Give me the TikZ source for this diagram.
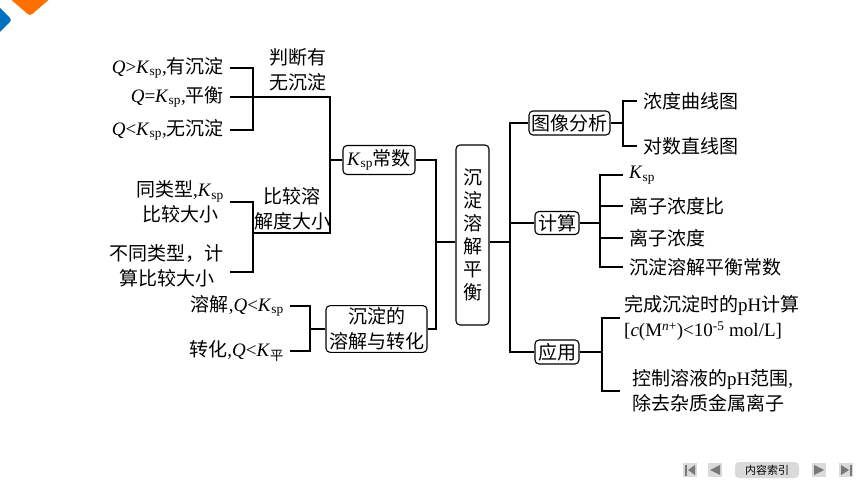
\documentclass[tikz,border=0pt]{standalone}
\usepackage{fontspec}
\setmainfont{Noto Sans CJK SC}
\newfontfamily\latfont{Liberation Serif}
\usetikzlibrary{calc}
\definecolor{logoBlue}{RGB}{0,112,192}
\definecolor{logoOrange}{RGB}{255,112,0}
\definecolor{navGray}{RGB}{120,120,120}
\definecolor{navLight}{RGB}{218,218,218}
\newcommand{\Lat}[1]{{\latfont #1}}
\newcommand{\Qv}{{\latfont\textit{Q}}}
\newcommand{\Kv}{{\latfont\textit{K}}}
\newcommand{\Ksp}{{\latfont\textit{K}\textsubscript{sp}}}
\tikzset{
  box/.style={draw,rounded corners=4pt,line width=1.1pt,inner sep=2pt,align=center},
  leaf/.style={inner xsep=6pt,inner ysep=1pt,align=center},
  link/.style={line width=1.3pt},
}

\begin{document}
\begin{tikzpicture}[x=1pt,y=-1pt,font=\fontsize{19}{25}\selectfont]
\useasboundingbox (0,0) rectangle (860,484);
% logo
\fill[logoOrange,rounded corners=3pt] (8,-3) -- (30,16) -- (52,-3) -- cycle;
\fill[logoBlue,rounded corners=3pt] (-3,5) -- (12,20) -- (-3,35) -- cycle;

% boxes
\node[box,minimum width=33,minimum height=180,inner sep=0pt,font=\fontsize{19}{23}\selectfont] (hub) at (472.5,235) {沉\\淀\\溶\\解\\平\\衡};
\node[box,minimum width=72,minimum height=29] (ksp) at (379,160) {\Ksp 常数};
\node[box,minimum width=101,minimum height=46] (zr) at (376.5,329) {沉淀的\\溶解与转化};
\node[box,minimum width=81,minimum height=24] (tx) at (569.5,123) {图像分析};
\node[box,minimum width=44,minimum height=23] (js) at (557,223) {计算};
\node[box,minimum width=44,minimum height=24] (yy) at (557,352) {应用};

% left leaves
\node[leaf,anchor=east] (q1) at (230,68) {\Qv\Lat{>}\Ksp\Lat{,}有沉淀};
\node[leaf,anchor=east] (q2) at (230,97) {\Qv\Lat{=}\Ksp\Lat{,}平衡};
\node[leaf,anchor=east] (q3) at (230,130) {\Qv\Lat{<}\Ksp\Lat{,}无沉淀};
\node[leaf] (lab1) at (298,70) {判断有\\无沉淀};
\node[leaf,anchor=east] (s1) at (230,202) {同类型\Lat{,}\Ksp\\比较大小};
\node[leaf,anchor=east] (s2) at (230,266) {不同类型，计\\算比较大小};
\node[leaf] (lab2) at (292,209) {比较溶\\解度大小};
\node[leaf,anchor=east] (r1) at (290,306) {溶解\Lat{,}\Qv\Lat{<}\Ksp};
\node[leaf,anchor=east] (r2) at (290,351) {转化\Lat{,}\Qv\Lat{<}\Kv\textsubscript{平}};

% right leaves
\node[leaf,anchor=west] (a1) at (637,101) {浓度曲线图};
\node[leaf,anchor=west] (a2) at (637,146) {对数直线图};
\node[leaf,anchor=west] (b1) at (623,175) {\Ksp};
\node[leaf,anchor=west] (b2) at (623,206) {离子浓度比};
\node[leaf,anchor=west] (b3) at (623,238) {离子浓度};
\node[leaf,anchor=west] (b4) at (623,267) {沉淀溶解平衡常数};
\node[leaf,anchor=west,align=left,inner xsep=4pt] (d1) at (620,318) {完成沉淀时的\Lat{pH}计算\\\Lat{[\textit{c}(M\textsuperscript{\textit{n}+})<10\textsuperscript{-5} mol/L]}};
\node[leaf,anchor=west,align=left,inner xsep=12pt] (d2) at (620,391) {控制溶液的\Lat{pH}范围\Lat{,}\\除去杂质金属离子};

% left connectors
\coordinate (j1) at (253,97);
\coordinate (k1) at (330,97);
\coordinate (k2) at (330,233);
\coordinate (j2) at (253,233);
\coordinate (j3) at (310,329);
\draw[link] (q1.east) -| (j1) |- (q3.east);
\draw[link] (q2.east) -- (k1) -- (k2) -- (j2);
\draw[link] (ksp.west) -- (ksp.west -| k1);
\draw[link] (s1.east) -| (j2) |- ($(s2.east)+(0,6)$);
\draw[link] (r1.east) -| (j3) |- (r2.east);
\draw[link] (j3) -- (zr.west);

% middle
\coordinate (m) at (436,242);
\coordinate (n) at (510,242);
\draw[link] (ksp.east) -| (m) |- (zr.east);
\draw[link] (m) -- (hub.west |- m);
\draw[link] (hub.east |- n) -- (n);
\draw[link] (tx.west) -| (n) |- (yy.west);
\draw[link] (js.west) -- (js.west -| n);

% right connectors
\coordinate (p) at (623,123);
\coordinate (c) at (600,223);
\coordinate (u) at (602,352);
\draw[link] (tx.east) -- (p);
\draw[link] (a1.west) -| (p) |- (a2.west);
\draw[link] (js.east) -- (c);
\draw[link] (b1.west) -| (c) |- (b4.west);
\draw[link] (b2.west) -- (b2.west -| c);
\draw[link] (b3.west) -- (b3.west -| c);
\draw[link] (yy.east) -- (u);
\draw[link] (d1.west) -| (u) |- (d2.west);

% navigation
\fill[navLight] (683,463) rectangle (697,477);
\fill[navGray] (685,464.5) rectangle (686.5,475.5);
\fill[navGray] (688,470) -- (695,465) -- (695,475) -- cycle;
\fill[navLight] (708,463) rectangle (722,477);
\fill[navGray] (710,470) -- (720,465) -- (720,475) -- cycle;
\node[fill=navLight,rounded corners=4pt,minimum width=64,minimum height=16,inner sep=0pt,font=\fontsize{11}{11}\selectfont] (nav) at (767,470) {内容索引};
\fill[navLight] (812,463) rectangle (826,477);
\fill[navGray] (824,470) -- (814,465) -- (814,475) -- cycle;
\fill[navLight] (839,463) rectangle (853,477);
\fill[navGray] (849,470) -- (841,465) -- (841,475) -- cycle;
\fill[navGray] (850,464.5) rectangle (851.5,475.5);
\end{tikzpicture}
\end{document}
